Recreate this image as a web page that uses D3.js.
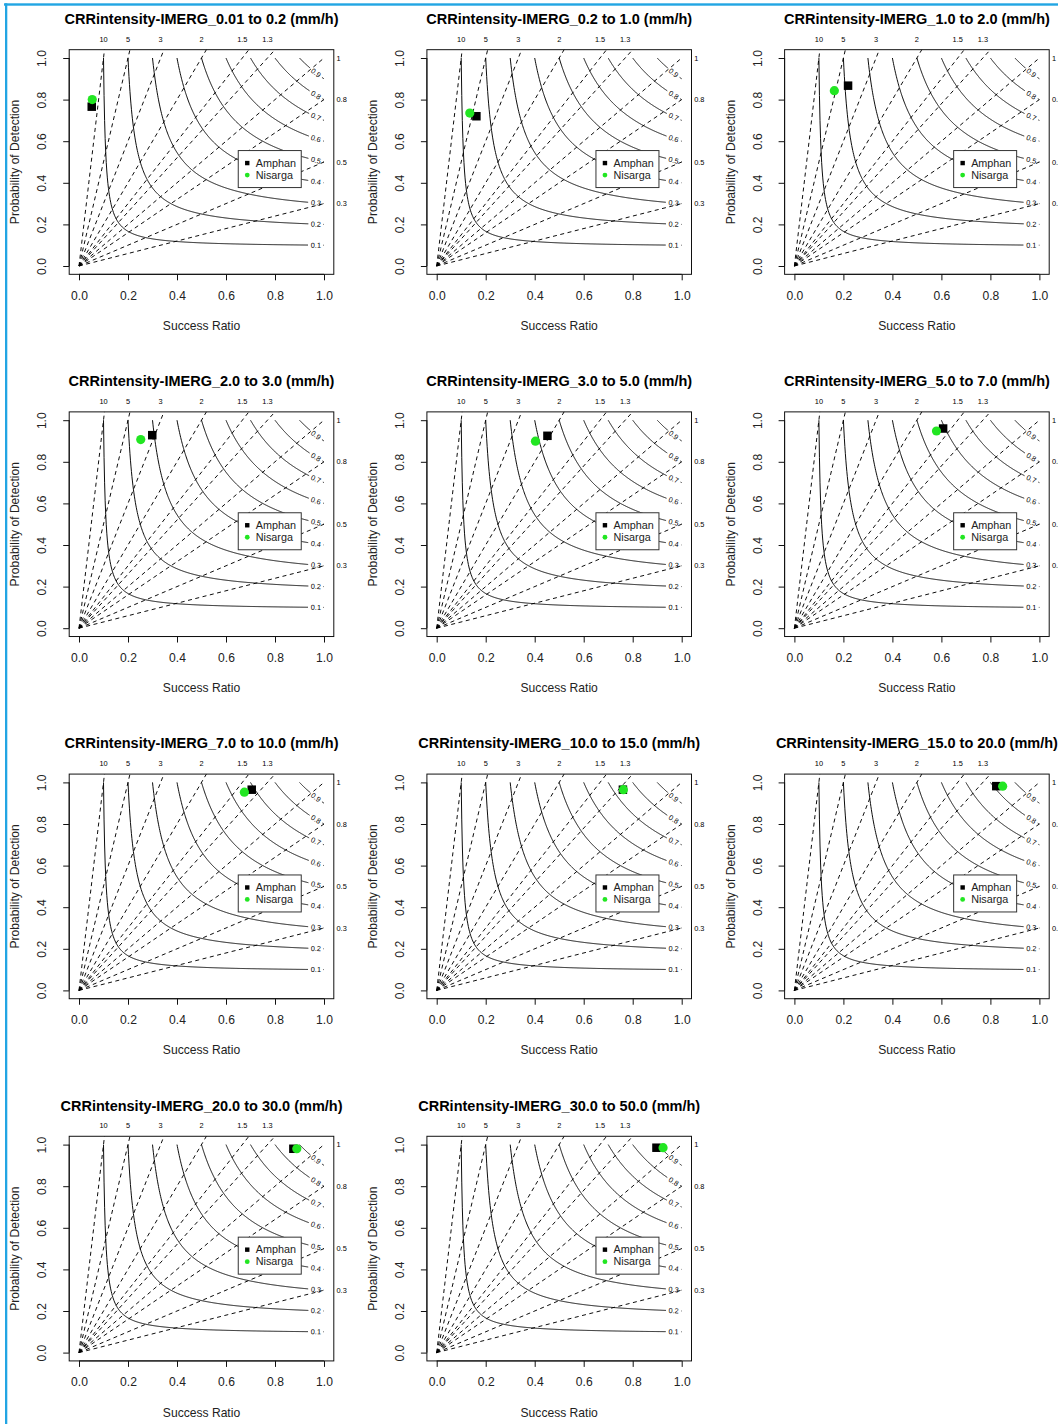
<!DOCTYPE html>
<html><head><meta charset="utf-8">
<script src="https://cdn.jsdelivr.net/npm/d3@7"></script>
<style>
body{margin:0;background:#fff}
text{font-family:"Liberation Sans",Arial,Helvetica,sans-serif}
</style>
</head><body>
<svg id="chart" width="1058" height="1424"></svg>
<script>
// ---------- data ----------
const ranges = ["0.01 to 0.2","0.2 to 1.0","1.0 to 2.0","2.0 to 3.0","3.0 to 5.0","5.0 to 7.0",
                "7.0 to 10.0","10.0 to 15.0","15.0 to 20.0","20.0 to 30.0","30.0 to 50.0"];
const seriesNames = ["Amphan","Nisarga"];
const amphanSR  = [0.052,0.162,0.219,0.299,0.452,0.607,0.705,0.760,0.824,0.875,0.897];
const amphanPOD = [0.766,0.720,0.867,0.928,0.925,0.960,0.965,0.965,0.982,0.980,0.985];
const nisargaSR  = [0.054,0.135,0.163,0.252,0.403,0.580,0.675,0.762,0.850,0.889,0.924];
const nisargaPOD = [0.800,0.735,0.843,0.907,0.899,0.948,0.953,0.965,0.982,0.980,0.985];
const csiLevels = [0.1,0.2,0.3,0.4,0.5,0.6,0.7,0.8,0.9];
const biasLevels = [0.3,0.5,0.8,1,1.3,1.5,2,3,5,10];
const topBiasLabels = ["10","5","3","2","1.5","1.3"];
const rightBiasLabels = ["1","0.8","0.5","0.3"];
const axisTicks = [0,0.2,0.4,0.6,0.8,1.0];

// ---------- layout ----------
const svg = d3.select("#chart");
const colW = 357.7, rowH = 362.2;
const BLUE = "#22a5e3";
const GREEN = "#22e622";
const AX_FS = "12.1px";

function drawPanel(i){
  const ox = (i%3)*colW, oy = Math.floor(i/3)*rowH;
  const g = svg.append("g").attr("transform",`translate(${ox},${oy})`);
  const x = d3.scaleLinear().domain([0,1]).range([79,324]);
  const y = d3.scaleLinear().domain([0,1]).range([266,58]);
  const bx0 = x(-0.04), bx1 = x(1.04), by0 = y(1.04), by1 = y(-0.04);

  // title
  g.append("text").attr("x",(bx0+bx1)/2).attr("y",24).attr("text-anchor","middle")
    .attr("font-size","14.5px").attr("font-weight","bold")
    .text(`CRRintensity-IMERG_${ranges[i]} (mm/h)`);

  // bias lines (dashed)
  biasLevels.forEach(b=>{
    const end = b>1 ? [1.04/b, 1.04] : [1, b];
    g.append("line").attr("x1",x(0)).attr("y1",y(0)).attr("x2",x(end[0])).attr("y2",y(end[1]))
      .attr("stroke","#000").attr("stroke-width",0.95).attr("stroke-dasharray","4,3.5");
  });

  // CSI curves with label gaps
  const labSR = 0.967, gapR = 7.5;
  csiLevels.forEach(c=>{
    const pod = sr => 1/(1/c + 1 - 1/sr);
    const lx = x(labSR), ly = y(pod(labSR));
    const pts = d3.range(0,401).map(k=>c + (1-c)*k/400).map(sr=>[x(sr),y(pod(sr))]);
    const segs=[]; let cur=[];
    pts.forEach(p=>{
      if (Math.hypot(p[0]-lx,p[1]-ly) > gapR) cur.push(p);
      else { if(cur.length>1) segs.push(cur); cur=[]; }
    });
    if(cur.length>1) segs.push(cur);
    segs.forEach(s=>g.append("path").attr("d",d3.line()(s)).attr("fill","none")
      .attr("stroke","#000").attr("stroke-width",0.95));
    const slope = -(pod(labSR)**2)/(labSR**2);
    const ang = Math.atan2(-(slope)*208, 245)*180/Math.PI;
    g.append("text").attr("transform",`translate(${lx},${ly}) rotate(${ang})`)
      .attr("text-anchor","middle").attr("dy","0.35em").attr("font-size","7.3px")
      .text(String(c));
  });

  // box
  g.append("rect").attr("x",bx0).attr("y",by0).attr("width",bx1-bx0).attr("height",by1-by0)
    .attr("fill","none").attr("stroke","#111").attr("stroke-width",1);

  // x axis
  const xa = g.append("g").attr("transform",`translate(0,${by1})`)
    .call(d3.axisBottom(x).tickValues(axisTicks).tickFormat(d3.format(".1f")).tickSize(6).tickPadding(11));
  xa.select(".domain").attr("d",`M${x(0)},0H${x(1)}`).attr("stroke","#111");
  xa.selectAll("line").attr("stroke","#111");
  xa.selectAll("text").attr("font-size",AX_FS).attr("font-family",null).attr("fill","#222");

  // y axis
  const ya = g.append("g").attr("transform",`translate(${bx0},0)`)
    .call(d3.axisLeft(y).tickValues(axisTicks).tickFormat(d3.format(".1f")).tickSize(6));
  ya.select(".domain").attr("d",`M0,${y(0)}V${y(1)}`).attr("stroke","#111");
  ya.selectAll("line").attr("stroke","#111");
  ya.selectAll("text").attr("x",null).attr("dy","0.35em").attr("text-anchor","middle")
    .attr("transform",`translate(${42-bx0},0) rotate(-90)`)
    .attr("font-size",AX_FS).attr("font-family",null).attr("fill","#222");

  // axis titles
  g.append("text").attr("x",(bx0+bx1)/2).attr("y",330).attr("text-anchor","middle")
    .attr("font-size",AX_FS).attr("fill","#222").text("Success Ratio");
  g.append("text").attr("transform",`translate(15,${(by0+by1)/2}) rotate(-90)`)
    .attr("text-anchor","middle").attr("dy","0.35em").attr("font-size",AX_FS).attr("fill","#222")
    .text("Probability of Detection");

  // bias labels
  topBiasLabels.forEach(t=>{
    g.append("text").attr("x",x(1/(+t))).attr("y",41.6).attr("text-anchor","middle")
      .attr("font-size","7.4px").text(t);
  });
  rightBiasLabels.forEach(t=>{
    g.append("text").attr("x",336.5).attr("y",y(+t)+2.6).attr("font-size","7.4px").text(t);
  });

  // legend
  const lgx = x(0.65), lgy = y(0.555);
  g.append("rect").attr("x",lgx).attr("y",lgy).attr("width",63).attr("height",37)
    .attr("fill","#fff").attr("stroke","#333").attr("stroke-width",1);
  g.append("rect").attr("x",lgx+9-2.2).attr("y",lgy+12.5-2.2).attr("width",4.4).attr("height",4.4).attr("fill","#000");
  g.append("circle").attr("cx",lgx+9).attr("cy",lgy+24.5).attr("r",2.4).attr("fill",GREEN);
  seriesNames.forEach((s,k)=>{
    g.append("text").attr("x",lgx+17.5).attr("y",lgy+12.5+k*12+3.8).attr("font-size","10.8px")
      .attr("fill","#222").text(s);
  });

  // points
  const sq = 8.5;
  g.append("rect").attr("x",x(amphanSR[i])-sq/2).attr("y",y(amphanPOD[i])-sq/2)
    .attr("width",sq).attr("height",sq).attr("fill","#000");
  g.append("circle").attr("cx",x(nisargaSR[i])).attr("cy",y(nisargaPOD[i])).attr("r",4.6)
    .attr("fill",GREEN);
}

ranges.forEach((r,i)=>drawPanel(i));

// blue frame
svg.append("rect").attr("x",4).attr("y",3.3).attr("width",1058).attr("height",2.4).attr("fill",BLUE);
svg.append("rect").attr("x",5).attr("y",3.3).attr("width",2.3).attr("height",1424).attr("fill",BLUE);
</script>
</body></html>
